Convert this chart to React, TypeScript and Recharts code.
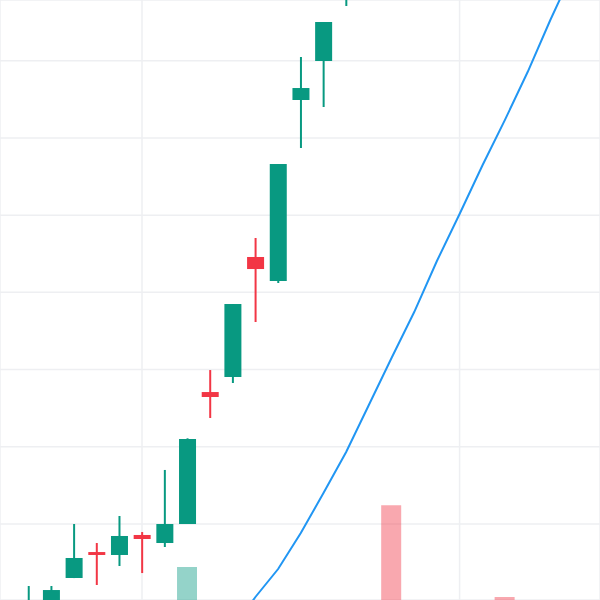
import React from 'react';
import { ComposedChart, Bar, Line, XAxis, YAxis, CartesianGrid, Cell } from 'recharts';

// candle slots, one per bar
const slots = [0, 1, 2, 3, 4, 5, 6, 7, 8, 9, 10, 11, 12, 13, 14, 15, 16, 17, 18, 19, 20, 21, 22, 23, 24, 25, 26];

const opens = [88.2, 88.5, 89.6, 93.01, 96.37, 95.99, 98.58, 97.54, 100.0, 117.09, 119.04, 134.58, 131.47, 154.91, 159.96, 169.4, 170.5, 179.0, 173.8, 180.6, 187.0, 190.4, 196.0, 192.0, 198.2, 202.6, 207.0];
const highs = [89.6, 91.97, 91.97, 100.0, 97.54, 101.04, 98.96, 107.0, 111.1, 119.94, 128.49, 137.04, 146.62, 160.48, 165.01, 174.2, 176.0, 181.0, 182.0, 188.0, 192.0, 197.0, 197.5, 199.0, 204.0, 208.0, 211.0];
const lows = [87.6, 87.9, 89.0, 93.0, 92.1, 94.56, 93.65, 97.02, 100.0, 113.73, 118.26, 126.16, 131.21, 148.69, 154.0, 167.08, 170.0, 171.0, 172.5, 179.0, 184.5, 189.0, 190.0, 191.0, 196.5, 201.0, 205.0];
const closes = [89.0, 89.8, 91.45, 95.6, 95.99, 98.45, 98.06, 100.0, 111.01, 116.45, 128.49, 133.02, 146.62, 156.46, 165.01, 172.8, 175.2, 173.5, 180.6, 186.9, 190.4, 195.8, 191.8, 198.1, 202.6, 206.9, 209.5];
const volumes = [12, 9, 11, 14, 10, 13, 11, 16, 25.5, 15, 18, 17, 19, 14, 16, 12, 13, 35.8, 15, 12, 14, 11, 20.5, 10, 9, 12, 11];
const maValues = [null, null, null, null, null, null, null, null, 79.5, 82.9, 86.5, 90.55, 94.17, 98.83, 104.01, 109.32, 115.41, 121.5, 127.45, 134.06, 140.14, 146.4, 152.34, 158.53, 165.27, 171.61, 178.22];

const priceTicks = [100, 110, 120, 130, 140, 150, 160];
const timeTicks = [6, 20];

const GREEN = '#089981';
const RED = '#f23645';

const data = slots.map((i, k) => ({
  i,
  open: opens[k],
  high: highs[k],
  low: lows[k],
  close: closes[k],
  volume: volumes[k],
  ma: maValues[k],
}));

const CandleShape = (props: any) => {
  const { x, y, width, height, payload } = props;
  const { open, close, high, low } = payload;
  const color = close >= open ? GREEN : RED;
  const ratio = high === low ? 0 : height / (high - low);
  const top = y + (high - Math.max(open, close)) * ratio;
  const bottom = y + (high - Math.min(open, close)) * ratio;
  const cx = x + width / 2;
  return (
    <g>
      <line x1={cx} x2={cx} y1={y} y2={y + height} stroke={color} strokeWidth={2} />
      <rect x={x} y={top} width={width} height={Math.max(bottom - top, 1)} fill={color} />
    </g>
  );
};

export default function App() {
  return (
    <div style={{ position: 'absolute', top: 0, left: 0, width: 600, height: 600, background: '#fff' }}>
      <ComposedChart width={600} height={600} data={data} margin={{ top: 0, right: 0, bottom: 0, left: 0 }}>
        <CartesianGrid stroke="#eeeff2" strokeWidth={1.5} />
        <XAxis dataKey="i" type="number" domain={[-0.26, 26.19]} ticks={timeTicks} allowDataOverflow hide />
        <XAxis xAxisId="vol" dataKey="i" type="number" domain={[-0.26, 26.19]} allowDataOverflow hide />
        <YAxis domain={[90.16, 167.86]} ticks={priceTicks} allowDataOverflow hide />
        <YAxis yAxisId="vol" domain={[20, 120]} allowDataOverflow hide />
        <Bar xAxisId="vol" yAxisId="vol" dataKey="volume" barSize={20} isAnimationActive={false}>
          {data.map((d, k) => (
            <Cell key={k} fill={d.close >= d.open ? GREEN : RED} fillOpacity={0.43} />
          ))}
        </Bar>
        <Bar dataKey={(d: any) => [d.low, d.high]} barSize={17} shape={CandleShape} isAnimationActive={false} />
        <Line type="linear" dataKey="ma" stroke="#2196f3" strokeWidth={2} dot={false} isAnimationActive={false} />
      </ComposedChart>
    </div>
  );
}
